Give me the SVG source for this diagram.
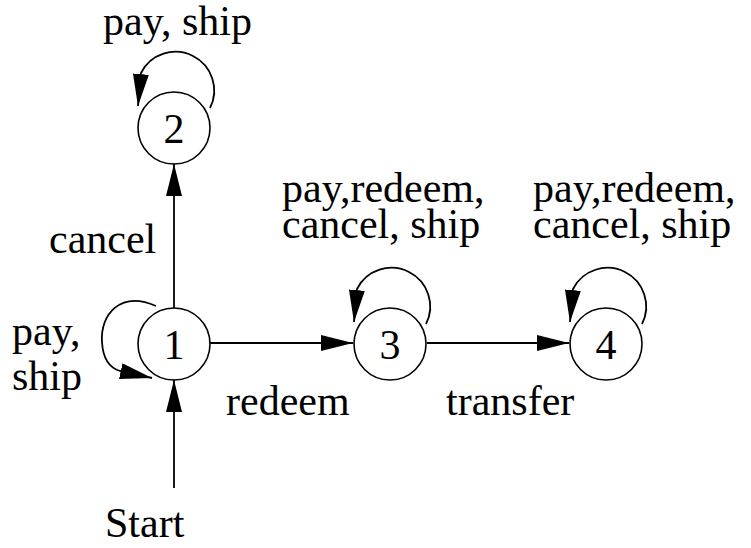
<svg xmlns="http://www.w3.org/2000/svg" width="751" height="548" viewBox="0 0 751 548">
<style>
  .node { fill: #ffffff; stroke: #000000; stroke-width: 1.6; }
  .edge { fill: none; stroke: #000000; stroke-width: 1.8; marker-end: url(#arrow); }
  .lbl { font-family: 'Liberation Serif', 'Times New Roman', serif; font-size: 42px; fill: #000000; }
  .num { text-anchor: middle; }
</style>
<defs>
  <marker id="arrow" markerUnits="userSpaceOnUse" viewBox="0 0 32 16" markerWidth="32" markerHeight="16" refX="32" refY="8" orient="auto">
    <path d="M0,0 L32,8 L0,16 z" fill="#000000"/>
  </marker>
</defs>
<g id="connectors">
  <path class="edge" d="M174,488 L174,380"/>
  <path class="edge" d="M174,308 L174,164"/>
  <path class="edge" d="M210,343 L353,343"/>
  <path class="edge" d="M427,343 L569,343"/>
  <path class="edge" d="M156,306 C120,290 100,315 102,342 C103,360 110,368 120,371 L152,378"/>
  <path class="edge" d="M210,108 A37,37 0 1 0 141,73 L138,106"/>
  <path class="edge" d="M426,324 A37,37 0 1 0 357,289 L354,322"/>
  <path class="edge" d="M642,324 A37,37 0 1 0 573,289 L570,322"/>
</g>
<g id="node1">
  <circle class="node" cx="174" cy="344" r="36"/>
  <text class="lbl num" x="174" y="359">1</text>
</g>
<g id="node2">
  <circle class="node" cx="174" cy="128" r="36"/>
  <text class="lbl num" x="174" y="143">2</text>
</g>
<g id="node3">
  <circle class="node" cx="390" cy="344" r="36"/>
  <text class="lbl num" x="390" y="359">3</text>
</g>
<g id="node4">
  <circle class="node" cx="606" cy="344" r="36"/>
  <text class="lbl num" x="606" y="359">4</text>
</g>
<g id="labels">
  <text class="lbl" x="103" y="35">pay, ship</text>
  <text class="lbl" x="49" y="253">cancel</text>
  <text class="lbl" x="282" y="202">pay,redeem,<tspan x="282" dy="36">cancel, ship</tspan></text>
  <text class="lbl" x="533" y="202">pay,redeem,<tspan x="533" dy="36">cancel, ship</tspan></text>
  <text class="lbl" x="12" y="345">pay,<tspan x="12" dy="45">ship</tspan></text>
  <text class="lbl" x="226" y="415">redeem</text>
  <text class="lbl" x="446" y="415">transfer</text>
  <text class="lbl" x="105" y="537">Start</text>
</g>
</svg>
